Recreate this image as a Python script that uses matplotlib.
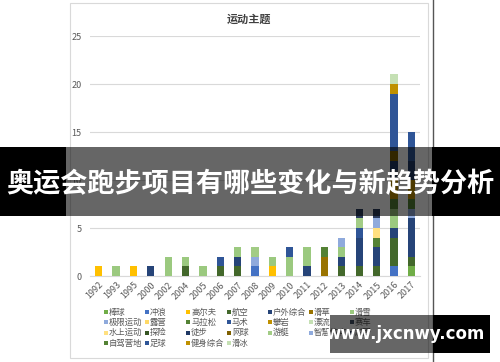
import matplotlib
matplotlib.use("Agg")
import matplotlib.pyplot as plt
from matplotlib.patches import Rectangle
import numpy as np

plt.rcParams['font.family'] = ['Noto Sans CJK SC', 'DejaVu Sans']

years = ["1992", "1993", "1995", "2000", "2002", "2004", "2005", "2006", "2007", "2008",
         "2009", "2010", "2011", "2012", "2013", "2014", "2015", "2016", "2017"]

# nombre de thèmes par année, une liste par série (ordre de la légende)
baseball   = [0, 0, 0, 0, 0, 0, 0, 0, 0, 0, 0, 0, 0, 0, 0, 0, 0, 0, 1]
surfing    = [0, 0, 0, 0, 0, 0, 0, 0, 0, 1, 0, 0, 0, 0, 0, 0, 0, 1, 0]
golf       = [1, 0, 1, 0, 0, 0, 0, 0, 0, 0, 1, 0, 0, 0, 0, 0, 0, 0, 0]
aviation   = [0, 0, 0, 0, 0, 1, 0, 1, 1, 0, 0, 0, 0, 0, 1, 1, 1, 3, 1]
outdoor    = [0, 0, 0, 1, 0, 0, 0, 0, 1, 0, 0, 0, 1, 0, 1, 3, 2, 1, 4]
grass_ski  = [0, 0, 0, 0, 0, 0, 0, 0, 0, 0, 0, 0, 0, 2, 0, 0, 0, 0, 0]
skiing     = [0, 1, 0, 0, 2, 1, 1, 0, 1, 0, 1, 2, 2, 0, 1, 0, 0, 2, 0]
extreme    = [0, 0, 0, 0, 0, 0, 0, 0, 0, 1, 0, 0, 0, 0, 1, 0, 0, 0, 1]
camping    = [0] * 19
marathon   = [0, 0, 0, 0, 0, 0, 0, 0, 0, 0, 0, 0, 0, 1, 0, 0, 1, 1, 1]
equestrian = [0, 0, 0, 0, 0, 0, 0, 1, 0, 0, 0, 1, 0, 0, 0, 1, 0, 0, 0]
climbing   = [0, 0, 0, 0, 0, 0, 0, 0, 0, 0, 0, 0, 0, 0, 0, 0, 0, 2, 2]
rafting    = [0] * 19
racing     = [0, 0, 0, 0, 0, 0, 0, 0, 0, 0, 0, 0, 0, 0, 0, 0, 0, 1, 0]
water      = [0, 0, 0, 0, 0, 0, 0, 0, 0, 0, 0, 0, 0, 0, 0, 0, 1, 0, 0]
adventure  = [0] * 19
hiking     = [0, 0, 0, 0, 0, 0, 0, 0, 0, 0, 0, 0, 0, 0, 0, 0, 0, 1, 2]
tennis     = [0, 0, 0, 0, 0, 0, 0, 0, 0, 0, 0, 0, 0, 0, 0, 0, 0, 1, 0]
yacht      = [0, 0, 0, 0, 0, 0, 0, 0, 0, 1, 0, 0, 0, 0, 0, 1, 0, 0, 0]
smart      = [0, 0, 0, 0, 0, 0, 0, 0, 0, 0, 0, 0, 0, 0, 0, 0, 1, 0, 0]
cross      = [0, 0, 0, 0, 0, 0, 0, 0, 0, 0, 0, 0, 0, 0, 0, 1, 1, 0, 0]
selfdrive  = [0] * 19
football   = [0, 0, 0, 0, 0, 0, 0, 0, 0, 0, 0, 0, 0, 0, 0, 0, 0, 6, 3]
fitness    = [0, 0, 0, 0, 0, 0, 0, 0, 0, 0, 0, 0, 0, 0, 0, 0, 0, 1, 0]
skating    = [0, 0, 0, 0, 0, 0, 0, 0, 0, 0, 0, 0, 0, 0, 0, 0, 0, 1, 0]

series_names = ["棒球", "冲浪", "高尔夫", "航空", "户外综合", "滑草", "滑雪",
                "极限运动", "露营", "马拉松", "马术", "攀岩", "漂流", "赛车",
                "水上运动", "探险", "徒步", "网球", "游艇", "智慧体育", "越野",
                "自驾营地", "足球", "健身综合", "滑冰"]
series_values = [baseball, surfing, golf, aviation, outdoor, grass_ski, skiing,
                 extreme, camping, marathon, equestrian, climbing, rafting, racing,
                 water, adventure, hiking, tennis, yacht, smart, cross,
                 selfdrive, football, fitness, skating]
series_colors = ["#70AD47", "#4472C4", "#FFC000", "#43682B", "#264478", "#997300", "#9BC97F",
                 "#8FAADC", "#FFD966", "#548235", "#2F5597", "#BF9000", "#C5E0B4", "#44546A",
                 "#FFE080", "#375623", "#1F3864", "#7F6000", "#A2CC85", "#8FAADC", "#2A3B5C",
                 "#548235", "#2F5597", "#BF9000", "#C5E0B4"]

W, H = 500, 362
fig = plt.figure(figsize=(W / 100, H / 100), dpi=100)
fig.patch.set_facecolor("white")

def fx(px):
    return px / W

def fy(py):
    return 1 - py / H

# cadre de la carte (derrière les axes)
fig.patches.append(Rectangle((fx(70), fy(358)), fx(358), 355 / H, transform=fig.transFigure,
                             facecolor="white", edgecolor="#D9D9D9", lw=0.8, zorder=-1))

ax = fig.add_axes([fx(90), fy(276), fx(330), (276 - 36) / H])
ax.set_facecolor("none")
x = np.arange(len(years))
bottom = np.zeros(len(years))
for name, vals, col in zip(series_names, series_values, series_colors):
    v = np.array(vals, dtype=float)
    ax.bar(x, v, 0.42, bottom=bottom, color=col, label=name, zorder=3)
    bottom += v

ax.set_xlim(-0.5, len(years) - 0.5)
ax.set_ylim(0, 25)
ax.set_yticks([0, 5, 10, 15, 20, 25])
ax.grid(axis="y", color="#D9D9D9", lw=0.8, zorder=0)
for s in ["top", "right", "left"]:
    ax.spines[s].set_visible(False)
ax.spines["bottom"].set_color("#D9D9D9")
ax.tick_params(axis="both", length=0, colors="#595959", labelsize=6.5)
ax.tick_params(axis="y", pad=6)
ax.set_xticks(x)
ax.set_xticklabels(years, rotation=45, ha="right", rotation_mode="anchor")
ax.tick_params(axis="x", pad=3)

fig.text(fx(249), fy(19), "运动主题", ha="center", va="center", fontsize=8,
         fontweight="bold", color="#404040")

# légende manuelle, 7 colonnes
for i, (name, col) in enumerate(zip(series_names, series_colors)):
    r, c = divmod(i, 7)
    lx = 106 + c * 41
    ly = 312 + r * 10.4
    fig.patches.append(Rectangle((fx(lx - 2), fy(ly + 2)), fx(4), 4 / H, transform=fig.transFigure,
                                 facecolor=col, edgecolor="none", zorder=2))
    fig.text(fx(lx + 3), fy(ly), name, ha="left", va="center", fontsize=6.0, color="#595959")

# trait vertical à droite
fig.add_artist(plt.Line2D([fx(433), fx(433)], [0, 1], transform=fig.transFigure,
                          color="#555555", lw=1, zorder=5))

# bandeau du titre
band_y0, band_y1 = 147, 216
for x0, x1, a in [(0, 66, 1.0), (66, 432, 0.6), (432, 500, 1.0)]:
    fig.patches.append(Rectangle((fx(x0), fy(band_y1)), fx(x1 - x0), (band_y1 - band_y0) / H,
                                 transform=fig.transFigure, facecolor="black", alpha=a,
                                 edgecolor="none", zorder=10))
fig.text(0.5, fy(184), "奥运会跑步项目有哪些变化与新趋势分析", ha="center", va="center",
         fontsize=19.5, fontweight="bold", color="white", zorder=11)

# filigrane
for x0, x1, a in [(330, 433, 0.6), (433, 490, 1.0)]:
    fig.patches.append(Rectangle((fx(x0), fy(353)), fx(x1 - x0), 38 / H,
                                 transform=fig.transFigure, facecolor="black", alpha=a,
                                 edgecolor="none", zorder=10))
fig.text(fx(405), fy(334), "www.jxcnwy.com", ha="center", va="center", fontsize=12,
         fontweight="bold", color="white", family=["DejaVu Sans"], zorder=11)

fig.savefig("out.png", dpi=100)
